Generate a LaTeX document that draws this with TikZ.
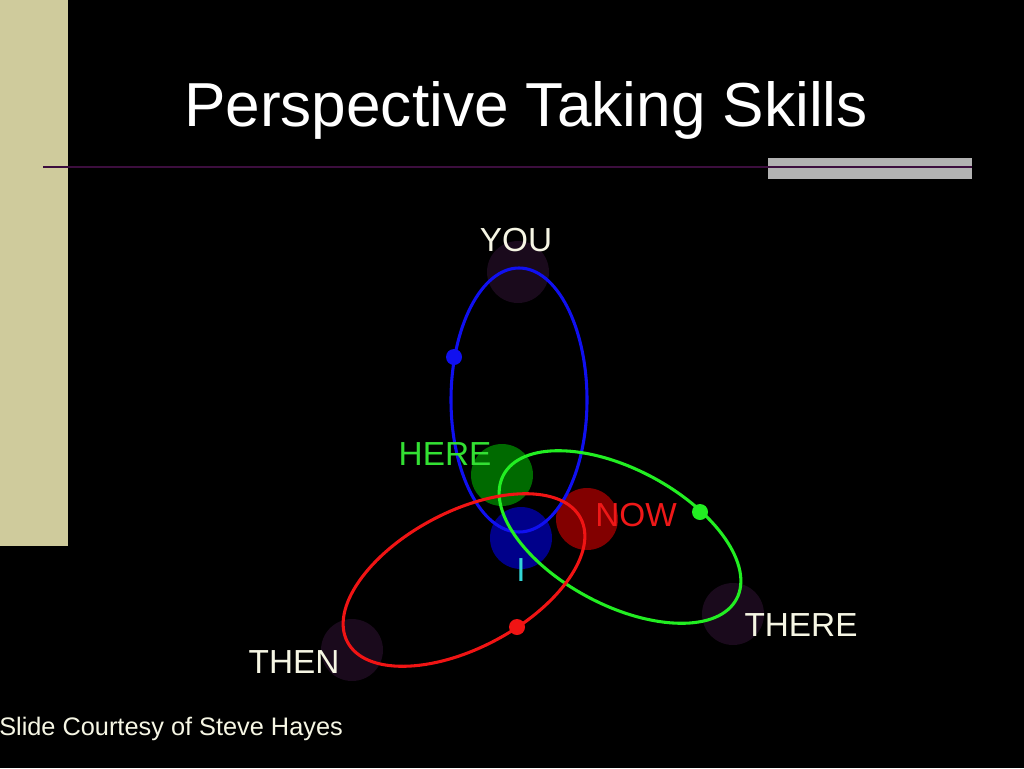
\documentclass[tikz,border=0pt]{standalone}
\usepackage{fontspec}
\setmainfont{Liberation Sans}
\usepackage{xcolor}
\usepackage{tikz}

\definecolor{sidebeige}{HTML}{CFCB9C}
\definecolor{rulepurple}{HTML}{3C0E3E}
\definecolor{bargrey}{HTML}{B2B2B2}
\definecolor{labelcream}{HTML}{F6F6E4}
\definecolor{ringblue}{HTML}{1010F0}
\definecolor{ringgreen}{HTML}{22EE22}
\definecolor{ringred}{HTML}{F01414}
\definecolor{spotgreen}{HTML}{006A00}
\definecolor{spotblue}{HTML}{00008A}
\definecolor{spotred}{HTML}{820000}
\definecolor{spotpurple}{HTML}{1A0A1C}
\definecolor{textgreen}{HTML}{33E033}
\definecolor{textred}{HTML}{EE1818}
\definecolor{textcyan}{HTML}{33D6D6}

\tikzset{
  ring/.style={line width=2.3pt},
  spot/.style={circle, minimum size=46.5pt, inner sep=0pt},
  dot/.style={circle, minimum size=12pt, inner sep=0pt},
  label/.style={inner sep=0pt, anchor=base, font=\fontsize{25}{25}\selectfont}
}

\begin{document}
\begin{tikzpicture}[x=0.75pt, y=-0.75pt]
    \fill[black] (0,0) rectangle (1024,768);
    \useasboundingbox (0,0) rectangle (1024,768);
    \fill[sidebeige] (0,0) rectangle (68,546);
    \fill[bargrey] (768,158) rectangle (972,179);
    \coordinate (ruleL) at (43,167);
    \coordinate (ruleR) at (972,167);
    \draw[rulepurple, line width=1.6pt] (ruleL) -- (ruleR);

    \node[inner sep=0pt, anchor=base, text=white, font=\fontsize{46.6}{46.6}\selectfont] (title) at (526,126) {Perspective Taking Skills};

    \node[spot, fill=spotpurple] (youspot) at (518,272) {};
    \node[spot, fill=spotpurple] (therespot) at (733,614) {};
    \node[spot, fill=spotpurple] (thenspot) at (352,650) {};
    \node[spot, fill=spotgreen] (herespot) at (502,475) {};
    \node[spot, fill=spotblue] (ispot) at (521,538) {};
    \node[spot, fill=spotred] (nowspot) at (587,519) {};

    \draw[ring, ringblue] (519,400) ellipse (68 and 132);
    \draw[ring, ringgreen, rotate around={-28:(620,537)}] (620,537) ellipse (132 and 68);
    \draw[ring, ringred, rotate around={28:(464,580)}] (464,580) ellipse (132 and 68);

    \node[dot, fill=ringblue] (bluedot) at (454,357) {};
    \node[dot, fill=ringgreen] (greendot) at (700,512) {};
    \node[dot, fill=ringred] (reddot) at (517,627) {};

    \node[label, text=labelcream] (you) at (516,251) {YOU};
    \node[label, text=textgreen] (here) at (445,465) {HERE};
    \node[label, text=textred] (now) at (636,526) {NOW};
    \node[label, text=textcyan] (i) at (521,581) {I};
    \node[label, text=labelcream] (there) at (801,636) {THERE};
    \node[label, text=labelcream] (then) at (294,673) {THEN};

    \node[inner sep=0pt, anchor=base west, text=labelcream, font=\fontsize{19}{19}\selectfont] (courtesy) at (-1,735) {Slide Courtesy of Steve Hayes};
\end{tikzpicture}
\end{document}
